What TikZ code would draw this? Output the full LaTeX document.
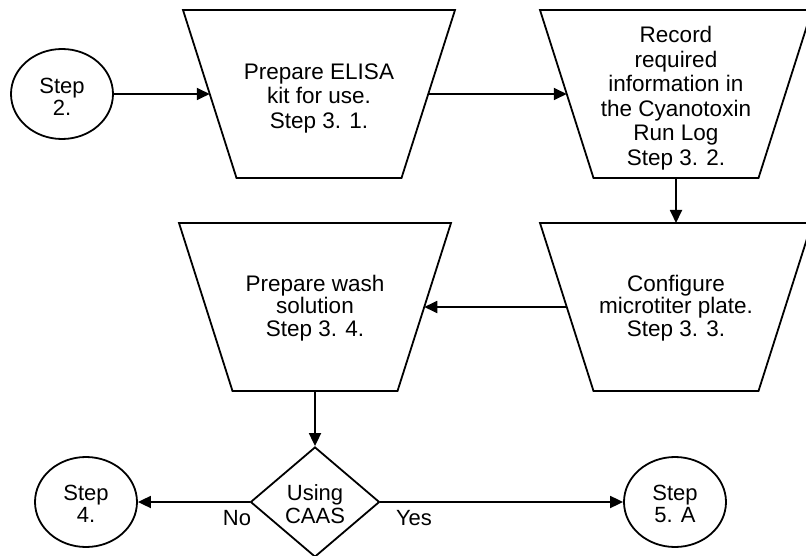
\documentclass[tikz,border=0pt]{standalone}
\usepackage{fontspec}
\setmainfont{Liberation Sans}
\usetikzlibrary{shapes.geometric, arrows.meta}

% A process box: a trapezoid, wide side up, with its text and edge anchors.
% #1 name, #2 x, #3 y, #4 extra text style, #5 text
\newcommand\procbox[5]{%
  \draw[procline] (#2-136,#3-84) -- (#2+136,#3-84) -- (#2+82.5,#3+84)
    -- (#2-82.5,#3+84) -- cycle;
  \node[#4] (#1) at (#2,#3) {#5};
  \coordinate (#1-w) at (#2-109.25,#3);
  \coordinate (#1-e) at (#2+109.25,#3);
  \coordinate (#1-n) at (#2,#3-84);
  \coordinate (#1-s) at (#2,#3+84);
}

\begin{document}
\begin{tikzpicture}[x=1pt, y=-1pt,
  every node/.style={font=\fontsize{22.5}{24.5}\selectfont, align=center, inner sep=0pt},
  procline/.style={draw, line width=1.8pt, line join=miter},
  tight/.style={font=\fontsize{22.5}{22.5}\selectfont, yshift=-1pt},
  loose/.style={font=\fontsize{22.5}{24.5}\selectfont, yshift=-4pt},
  term/.style={draw, line width=1.8pt, shape=ellipse, minimum width=102pt,
    minimum height=90pt, font=\fontsize{22}{22.5}\selectfont},
  termtext/.style={font=\fontsize{22}{22.5}\selectfont},
  decide/.style={draw, line width=1.8pt, shape=diamond, minimum width=129pt,
    minimum height=110pt, font=\fontsize{22}{22}\selectfont},
  flow/.style={line width=1.8pt, -{Triangle[length=13pt, width=12pt]}},
  lbl/.style={font=\fontsize{22}{22}\selectfont}]

  \useasboundingbox (0,0) rectangle (806,556);

  % start terminal and the first row of process steps
  \node[term] (s2) at (62,94) {};
  \node[termtext] (s2t) at (62,97) {Step\\2.};
  \procbox{p1}{319}{94}{loose}{Prepare ELISA\\kit for use.\\Step 3. 1.}
  \procbox{p2}{676}{94}{loose}{Record\\required\\information in\\the Cyanotoxin\\Run Log\\Step 3. 2.}

  % second row
  \procbox{p3}{676}{307}{tight}{Configure\\microtiter plate.\\Step 3. 3.}
  \procbox{p4}{315}{307}{tight}{Prepare wash\\solution\\Step 3. 4.}

  % decision and its two outcomes
  \node[decide] (q) at (315,502) {};
  \node[termtext] (qt) at (315,504) {Using\\CAAS};
  \node[term] (s4) at (86,502) {};
  \node[termtext] (s4t) at (86,504) {Step\\4.};
  \node[term] (s5) at (675,502) {};
  \node[termtext] (s5t) at (675,504) {Step\\5. A};

  % connectors
  \draw[flow] (s2) -- (p1-w);
  \draw[flow] (p1-e) -- (p2-w);
  \draw[flow] (p2-s) -- (p3-n);
  \draw[flow] (p3-w) -- (p4-e);
  \draw[flow] (p4-s) -- (q);
  \draw[flow] (q) -- (s4);
  \draw[flow] (q) -- (s5);

  % branch labels
  \node[lbl] (no) at (237,518) {No};
  \node[lbl] (yes) at (414,518) {Yes};
\end{tikzpicture}
\end{document}
